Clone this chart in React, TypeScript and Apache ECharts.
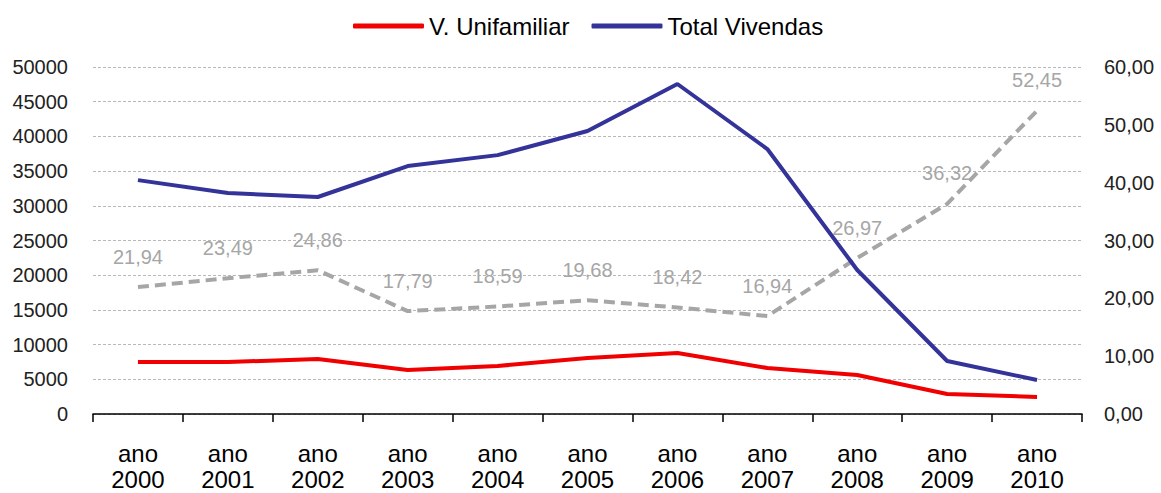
import React, { useEffect, useRef } from "react";
import * as echarts from "echarts";

const categories = ["2000", "2001", "2002", "2003", "2004", "2005", "2006", "2007", "2008", "2009", "2010"];
const unifamiliar = [7490, 7490, 7930, 6340, 6920, 8070, 8790, 6630, 5620, 2880, 2450];
const totalVivendas = [33700, 31850, 31270, 35730, 37300, 40780, 47550, 38180, 20750, 7640, 4900];
const percent = [21.94, 23.49, 24.86, 17.79, 18.59, 19.68, 18.42, 16.94, 26.97, 36.32, 52.45];

const fmt = (v: number) => v.toFixed(2).replace(".", ",");

export default function App() {
  const ref = useRef<HTMLDivElement>(null);
  useEffect(() => {
    const chart = echarts.init(ref.current!, undefined, { renderer: "svg" });
    chart.setOption({
      animation: false,
      backgroundColor: "#ffffff",
      textStyle: { fontFamily: "Liberation Sans, Arial, sans-serif" },
      legend: {
        data: ["V. Unifamiliar", "Total Vivendas"],
        top: 9,
        left: 348,
        itemWidth: 71,
        itemHeight: 5,
        itemGap: 22,
        icon: "roundRect",
        textStyle: { fontSize: 24, color: "#000" },
      },
      grid: { left: 93, right: 79, top: 67, bottom: 79, containLabel: false, outerBoundsMode: "none" },
      xAxis: {
        type: "category",
        data: categories.map((c) => "ano\n" + c),
        boundaryGap: true,
        axisLine: { lineStyle: { color: "#000", width: 1.5 } },
        axisTick: { show: true, inside: false, length: 8, lineStyle: { color: "#000", width: 1.5 } },
        axisLabel: { fontSize: 24, color: "#000", margin: 26, lineHeight: 26, interval: 0 },
        splitLine: { show: false },
      },
      yAxis: [
        {
          type: "value",
          min: 0,
          max: 50000,
          interval: 5000,
          axisLine: { show: false },
          axisTick: { show: false },
          axisLabel: { fontSize: 20, color: "#222", margin: 25, formatter: (v: number) => String(v) },
          splitLine: { lineStyle: { type: [3, 2], color: "#b8b8b8", width: 1 } },
        },
        {
          type: "value",
          min: 0,
          max: 60,
          interval: 10,
          axisLine: { show: false },
          axisTick: { show: false },
          axisLabel: { fontSize: 20, color: "#222", margin: 22, formatter: (v: number) => fmt(v) },
          splitLine: { show: false },
        },
      ],
      series: [
        {
          name: "V. Unifamiliar",
          type: "line",
          data: unifamiliar,
          yAxisIndex: 0,
          symbol: "none",
          color: "#f00000",
          lineStyle: { color: "#f00000", width: 4 },
          z: 3,
        },
        {
          name: "Total Vivendas",
          type: "line",
          data: totalVivendas,
          yAxisIndex: 0,
          symbol: "none",
          color: "#333399",
          lineStyle: { color: "#333399", width: 4 },
          z: 3,
        },
        {
          name: "Percentagem",
          type: "line",
          data: percent,
          yAxisIndex: 1,
          symbol: "circle",
          symbolSize: 1,
          showSymbol: true,
          itemStyle: { color: "rgba(0,0,0,0)" },
          lineStyle: { color: "#a6a6a6", width: 4, type: [11, 6] },
          label: {
            show: true,
            position: "top",
            distance: 20,
            color: "#a6a6a6",
            fontSize: 20,
            formatter: (p: any) => fmt(p.value),
          },
          z: 2,
        },
      ],
    });
    return () => chart.dispose();
  }, []);
  return <div ref={ref} style={{ position: "absolute", left: 0, top: 0, width: 1161, height: 493 }} />;
}
